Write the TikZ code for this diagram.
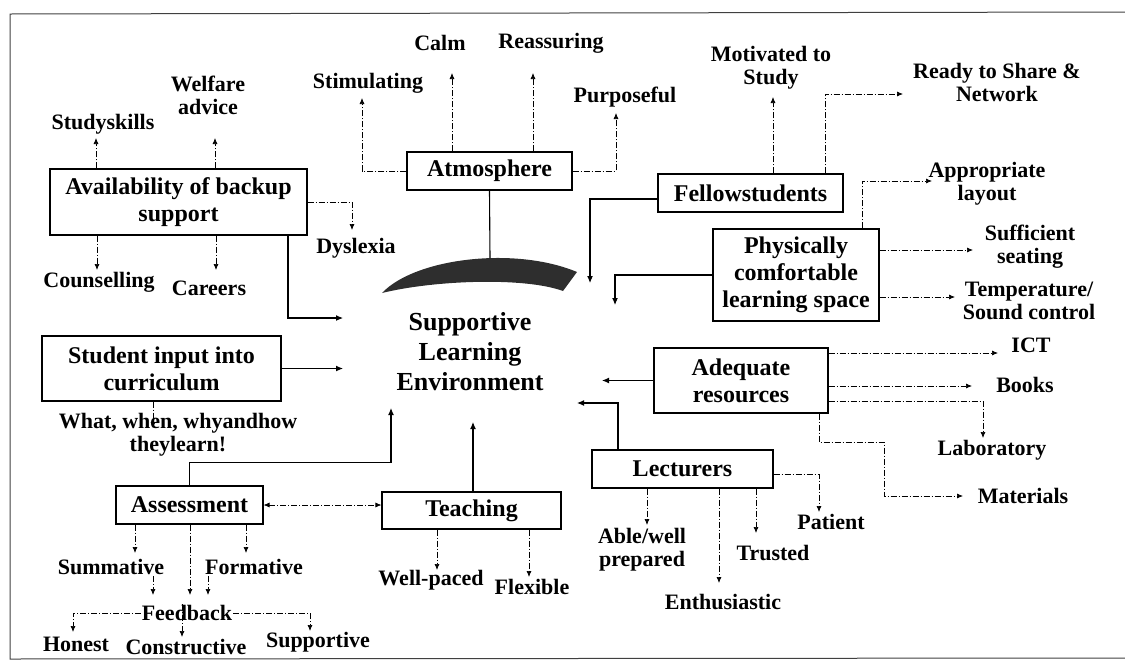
\documentclass[tikz,border=0pt]{standalone}
\usepackage{fontspec}
\setmainfont{Liberation Serif}
\usetikzlibrary{arrows.meta}
\begin{document}
\begin{tikzpicture}[x=1pt,y=-1pt,
  box/.style={draw, line width=1.1pt, align=center, inner sep=2pt, font=\fontsize{24}{27}\selectfont\bfseries},
  leaf/.style={align=center, inner sep=1pt, font=\fontsize{22}{23}\selectfont\bfseries},
  dd/.style={line width=0.7pt, dash pattern=on 6pt off 2pt on 1pt off 2pt},
  arr/.style={-{Latex[length=6pt,width=5pt]}},
  both/.style={{Latex[length=6pt,width=5pt]}-{Latex[length=6pt,width=5pt]}},
  sol/.style={line width=1.1pt},
  sarr/.style={-{Latex[length=7pt,width=6pt]}}]
\useasboundingbox (0,0) rectangle (1125,662);
% frame
\draw[line width=1pt, black!75] (1125,12) -- (10,14) -- (10,659) -- (1125,658);

% boxes
\node[box, minimum width=257, minimum height=66] (avail) at (178.5,202) {Availability of backup\\support};
\node[box, minimum width=165, minimum height=38] (atm) at (489.5,171) {Atmosphere};
\node[box, minimum width=185, minimum height=38] (fel) at (750.5,193) {Fellowstudents};
\node[box, minimum width=166, minimum height=92] (phys) at (796,275) {Physically\\comfortable\\learning space};
\node[box, minimum width=239, minimum height=65] (sinput) at (161.5,368.5) {Student input into\\curriculum};
\node[box, minimum width=147, minimum height=38] (assess) at (189.5,505) {Assessment};
\node[box, minimum width=179, minimum height=37] (teach) at (471.5,510.5) {Teaching};
\node[box, minimum width=181, minimum height=38] (lect) at (682.5,469) {Lecturers};
\node[box, minimum width=174, minimum height=65] (adeq) at (741,380.5) {Adequate\\resources};
\node[align=center, inner sep=1pt, font=\fontsize{26}{30}\selectfont\bfseries] (sle) at (470,352) {Supportive\\Learning\\Environment};

% leaves
\node[leaf] (ss) at (103,124) {Studyskills};
\node[leaf] (wa) at (208,95) {Welfare\\advice};
\node[leaf] (coun) at (99,282) {Counselling};
\node[leaf] (car) at (209,288) {Careers};
\node[leaf] (dys) at (356,248) {Dyslexia};
\node[leaf] (stim) at (368,83) {Stimulating};
\node[leaf] (calm) at (440,43) {Calm};
\node[leaf] (reas) at (551,43) {Reassuring};
\node[leaf] (purp) at (625,97) {Purposeful};
\node[leaf] (mot) at (771,68) {Motivated to\\Study};
\node[leaf] (rsn) at (997,82) {Ready to Share \&\\Network};
\node[leaf] (al) at (987,184) {Appropriate\\layout};
\node[leaf] (sufs) at (1030,247) {Sufficient\\seating};
\node[leaf] (temp) at (1029,301) {Temperature/\\Sound control};
\node[leaf] (ict) at (1031,345) {ICT};
\node[leaf] (books) at (1025,385) {Books};
\node[leaf] (lab) at (992,450) {Laboratory};
\node[leaf] (mat) at (1023,496) {Materials};
\node[leaf] (pat) at (831,522) {Patient};
\node[leaf] (trust) at (773,553) {Trusted};
\node[leaf] (able) at (642,550) {Able/well\\prepared};
\node[leaf] (enth) at (723,602) {Enthusiastic};
\node[leaf] (wp) at (431,580) {Well-paced};
\node[leaf] (flex) at (532,587) {Flexible};
\node[leaf] (what) at (178,435) {What, when, whyandhow\\theylearn!};
\node[leaf] (summ) at (111,567) {Summative};
\node[leaf] (form) at (254,567) {Formative};
\node[leaf] (fb) at (187,613) {Feedback};
\node[leaf] (hon) at (76,644) {Honest};
\node[leaf] (cons) at (186,647) {Constructive};
\node[leaf] (supp) at (318,642) {Supportive};

% connector end points
\coordinate (ssA) at (96,138);
\coordinate (waA) at (215,138);
\coordinate (counA) at (97,270);
\coordinate (carA) at (216,270);
\coordinate (dysA) at (352,230);
\coordinate (c1) at (343,318);
\coordinate (stimA) at (362,98);
\coordinate (calmA) at (452,73);
\coordinate (reasA) at (533,73);
\coordinate (purpA) at (616,113);
\coordinate (arcTop) at (490,258);
\coordinate (motA) at (773,97);
\coordinate (rsA) at (825,94);
\coordinate (rsEnd) at (903,94);
\coordinate (c8) at (590,283);
\coordinate (alA) at (862,181);
\coordinate (alEnd) at (932,181);
\coordinate (sufEnd) at (973,250);
\coordinate (tempEnd) at (955,297);
\coordinate (c9) at (615,305);
\coordinate (c2) at (343,367);
\coordinate (whatA) at (153,428);
\coordinate (c3) at (391,408);
\coordinate (summA) at (135,553);
\coordinate (formA) at (246,553);
\coordinate (fbA) at (190,595);
\coordinate (fbB) at (153,595);
\coordinate (fbC) at (208,595);
\coordinate (honA) at (73,632);
\coordinate (consA) at (182,637);
\coordinate (suppA) at (310,631);
\coordinate (c4) at (473,422);
\coordinate (wpA) at (437,570);
\coordinate (flexA) at (529,577);
\coordinate (c5) at (577,403);
\coordinate (ableA) at (647,525);
\coordinate (enthA) at (719,583);
\coordinate (trustA) at (756,533);
\coordinate (patA) at (819,512);
\coordinate (c6) at (602,379);
\coordinate (ictEnd) at (998,353);
\coordinate (booksEnd) at (972,386);
\coordinate (labB) at (983,401);
\coordinate (labA) at (983,438);
\coordinate (matB) at (819,442);
\coordinate (matC) at (884,442);
\coordinate (matD) at (884,496);
\coordinate (matE) at (963,496);

% crescent
\fill[black!82] (382,293) .. controls (415,258) and (515,246) .. (577,272)
  -- (563,291) .. controls (525,277) and (435,280) .. (382,293) -- cycle;

% availability
\draw[dd,arr] (avail.north -| ssA) -- (ssA);
\draw[dd,arr] (avail.north -| waA) -- (waA);
\draw[dd,arr] (avail.south -| counA) -- (counA);
\draw[dd,arr] (avail.south -| carA) -- (carA);
\draw[dd,arr] (avail.east) -| (dysA);
\draw[sol,sarr] ([xshift=109.5pt]avail.south) |- (c1);

% atmosphere
\draw[dd,arr] (atm.west) -| (stimA);
\draw[dd,arr] (atm.north -| calmA) -- (calmA);
\draw[dd,arr] (atm.north -| reasA) -- (reasA);
\draw[dd,arr] (atm.east) -| (purpA);
\draw[sol] (atm.south) -- (arcTop);

% fellow students
\draw[dd,arr] (fel.north -| motA) -- (motA);
\draw[dd,arr] (fel.north -| rsA) -- (rsA) -- (rsEnd);
\draw[sol,sarr] ([yshift=-6pt]fel.west) -| (c8);

% physically comfortable
\draw[dd,arr] (phys.north -| alA) -- (alA) -- (alEnd);
\draw[dd,arr] (phys.east |- sufEnd) -- (sufEnd);
\draw[dd,arr] (phys.east |- tempEnd) -- (tempEnd);
\draw[sol,sarr] (phys.west) -| (c9);

% student input
\draw[sol,sarr] (sinput.east) -- (sinput.east -| c2);
\draw[dd,arr] (sinput.south -| whatA) -- (whatA);

% assessment
\draw[sol,sarr] (assess.north) -- ++(0,-23) -| (c3);
\draw[dd,both] (assess.east) -- (assess.east -| teach.west);
\draw[dd,arr] (assess.south -| summA) -- (summA);
\draw[dd,arr] (assess.south -| formA) -- (formA);
\draw[dd,arr] (assess.south -| fbA) -- (fbA);
\draw[dd,arr] (summ.south -| fbB) -- (fbB);
\draw[dd,arr] (form.south -| fbC) -- (fbC);
\draw[dd,arr] (fb.west) -| (honA);
\draw[dd,arr] (fb.north -| consA) -- (consA);
\draw[dd,arr] (fb.east) -| (suppA);

% teaching
\draw[sol,sarr] (teach.north -| c4) -- (c4);
\draw[dd,arr] (teach.south -| wpA) -- (wpA);
\draw[dd,arr] (teach.south -| flexA) -- (flexA);

% lecturers
\draw[sol,sarr] ([xshift=-64.5pt]lect.north) |- (c5);
\draw[dd,arr] (lect.south -| ableA) -- (ableA);
\draw[dd,arr] (lect.south -| enthA) -- (enthA);
\draw[dd,arr] (lect.south -| trustA) -- (trustA);
\draw[dd,arr] ([yshift=-5pt]lect.east) -| (patA);

% adequate resources
\draw[sol,sarr] (adeq.west) -- (adeq.west -| c6);
\draw[dd,arr] (adeq.east |- ictEnd) -- (ictEnd);
\draw[dd,arr] (adeq.east |- booksEnd) -- (booksEnd);
\draw[dd,arr] (adeq.east |- labB) -- (labB) -- (labA);
\draw[dd,arr] (adeq.south -| matB) -- (matB) -- (matC) -- (matD) -- (matE);
\end{tikzpicture}
\end{document}
